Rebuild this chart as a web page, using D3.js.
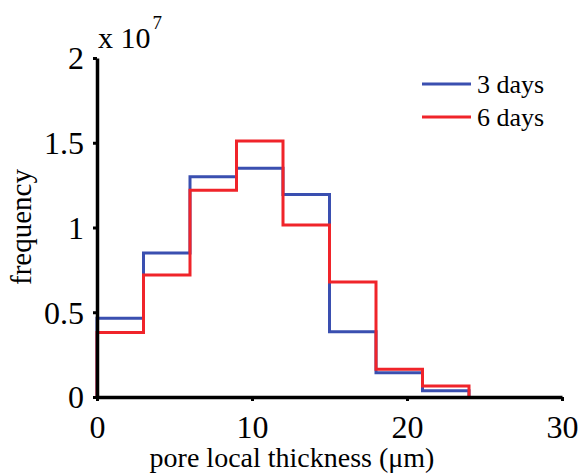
<!DOCTYPE html>
<html>
<head>
<meta charset="utf-8">
<script src="https://cdn.jsdelivr.net/npm/d3@7"></script>
<style>
  body { margin: 0; background: #fff; }
  text { font-family: "Liberation Serif", "Times New Roman", serif; fill: #000; }
</style>
</head>
<body>
<div id="plot"></div>
<script>
// bin edges (um) and counts per bin, in units of 1e7
const binEdges = [0, 3, 6, 9, 12, 15, 18, 21, 24];
const days3 = [0.465, 0.85, 1.30, 1.35, 1.195, 0.385, 0.143, 0.037];
const days6 = [0.38, 0.72, 1.22, 1.51, 1.015, 0.678, 0.163, 0.065];
const xTicks = [0, 10, 20, 30];
const yTicks = [0, 0.5, 1, 1.5, 2];
const yTickLabels = ["0", "0.5", "1", "1.5", "2"];
const seriesNames = ["3 days", "6 days"];
const seriesColors = ["#3a4fb0", "#f0242a"];

const W = 582, H = 474;
const margin = {top: 58, right: 20, bottom: 77, left: 97};
const width = 562 - margin.left,
    height = 397 - margin.top;

const svg = d3.select("#plot").append("svg")
    .attr("width", W).attr("height", H)
  .append("g")
    .attr("transform", `translate(${margin.left},${margin.top})`);

const x = d3.scaleLinear().domain([0, 30]).range([0, width]);
const y = d3.scaleLinear().domain([0, 2]).range([height, 0]);

// step outline: start at 0, go through each bin, come back to 0
function stairs(vals) {
  const pts = [[binEdges[0], 0]];
  vals.forEach((v, i) => {
    pts.push([binEdges[i], v]);
    pts.push([binEdges[i + 1], v]);
  });
  pts.push([binEdges[vals.length], 0]);
  return d3.line().x(d => x(d[0])).y(d => y(d[1]))(pts);
}

[days3, days6].forEach((s, i) => {
  svg.append("path")
    .attr("d", stairs(s))
    .attr("fill", "none")
    .attr("stroke", seriesColors[i])
    .attr("stroke-width", 3)
    .attr("stroke-linejoin", "miter");
});

// axes
const xAxis = svg.append("g")
  .attr("transform", `translate(0,${height})`)
  .call(d3.axisBottom(x).tickValues(xTicks).tickSize(4).tickPadding(14).tickSizeOuter(0));
const yAxis = svg.append("g")
  .call(d3.axisLeft(y).tickValues(yTicks).tickFormat((d, i) => yTickLabels[i])
    .tickSize(4).tickPadding(9).tickSizeOuter(0));

[xAxis, yAxis].forEach(a => {
  a.select(".domain").attr("stroke", "#000").attr("stroke-width", 3.5);
  a.selectAll(".tick line").attr("stroke", "#000").attr("stroke-width", 3);
  a.selectAll(".tick text")
    .style("font-family", "Liberation Serif, serif")
    .style("font-size", "32px").attr("fill", "#000");
});
yAxis.selectAll(".tick text").attr("dy", "0.34em");

// exponent
const ex = svg.append("text")
  .attr("x", 1).attr("y", -10)
  .style("font-size", "30px");
ex.append("tspan").text("x 10");
ex.append("tspan").attr("dy", -19).attr("dx", 2).style("font-size", "19px").text("7");

// axis labels
svg.append("text")
  .attr("text-anchor", "middle")
  .attr("x", (152 + 432) / 2 - margin.left)
  .attr("y", 467 - margin.top)
  .style("font-size", "28px")
  .text("pore local thickness (\u03bcm)");

svg.append("text")
  .attr("text-anchor", "middle")
  .attr("transform", `translate(${31 - margin.left},${227 - margin.top}) rotate(-90)`)
  .style("font-size", "29px")
  .text("frequency");

// legend
const legend = svg.append("g")
  .attr("transform", `translate(${422 - margin.left},${84 - margin.top})`);
seriesNames.forEach((n, i) => {
  const g = legend.append("g").attr("transform", `translate(0,${i * 33})`);
  g.append("line")
    .attr("x1", 0).attr("x2", 49)
    .attr("stroke", seriesColors[i]).attr("stroke-width", 3);
  g.append("text")
    .attr("x", 55).attr("y", 9)
    .style("font-size", "26px")
    .text(n);
});
</script>
</body>
</html>
